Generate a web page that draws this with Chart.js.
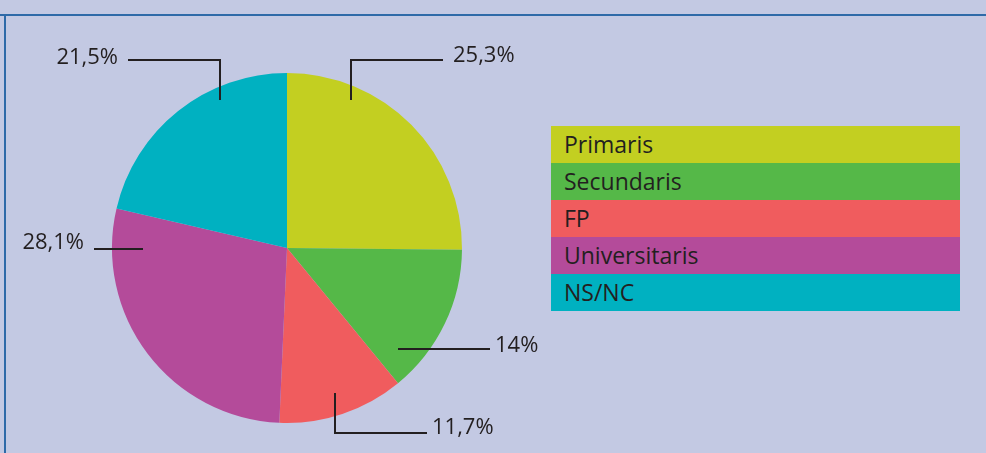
<!DOCTYPE html>
<html>
<head>
<meta charset="utf-8">
<script src="https://cdn.jsdelivr.net/npm/chart.js@4.4.1/dist/chart.umd.min.js"></script>
<style>
  html, body { margin: 0; padding: 0; }
  body { width: 986px; height: 453px; background: #c3c9e3; position: relative; overflow: hidden; }
  #frameTop { position: absolute; left: 0; top: 14px; width: 986px; height: 2px; background: #2e6aa8; }
  #frameLeft { position: absolute; left: 4px; top: 14px; width: 2px; height: 439px; background: #2e6aa8; }
  #wrap { position: absolute; left: 0; top: 0; width: 986px; height: 453px; }
  #legend { position: absolute; left: 551px; top: 126px; width: 409px; }
  #legend div {
    height: 37px; line-height: 37px; padding-left: 13px;
    font-family: "Open Sans", sans-serif; font-size: 23px; color: #231f20;
  }
</style>
</head>
<body>
<div id="frameTop"></div>
<div id="frameLeft"></div>
<div id="wrap"><canvas id="myChart"></canvas></div>
<div id="legend"></div>
<script>
// datos
const labels = ['Primaris', 'Secundaris', 'FP', 'Universitaris', 'NS/NC'];
const values = [25.3, 14, 11.7, 28.1, 21.5];
const colors = ['#c3cf21', '#55b848', '#f05c5e', '#b44b9a', '#00b1c1'];

// leyenda en html (barras de color a todo lo ancho)
const legendEl = document.getElementById('legend');
labels.forEach(function (l, i) {
  const d = document.createElement('div');
  d.style.background = colors[i];
  d.textContent = l;
  legendEl.appendChild(d);
});

// lineas guia: offsets en px para radio 175, relativos al centro
const leaders = [
  { pts: [[64, -148], [64, -188], [156, -188]], text: [166, -186], align: 'left' },
  { pts: [[111, 101], [203, 101]], text: [208, 104], align: 'left' },
  { pts: [[48, 145], [48, 185], [140, 185]], text: [145, 186], align: 'left' },
  { pts: [[-144, 1], [-193, 1]], text: [-203, 1], align: 'right' },
  { pts: [[-67, -148], [-67, -188], [-159, -188]], text: [-169, -184], align: 'right' }
];

const leaderPlugin = {
  id: 'leaders',
  afterDraw(chart) {
    const ctx = chart.ctx;
    const meta = chart.getDatasetMeta(0);
    ctx.save();
    ctx.strokeStyle = '#231f20';
    ctx.fillStyle = '#231f20';
    ctx.lineWidth = 2;
    ctx.font = '22px "Open Sans", sans-serif';
    ctx.textBaseline = 'alphabetic';
    meta.data.forEach(function (arc, i) {
      const k = arc.outerRadius / 175;
      const cx = arc.x, cy = arc.y;
      const L = leaders[i];
      ctx.beginPath();
      L.pts.forEach(function (p, j) {
        const x = cx + p[0] * k, y = cy + p[1] * k;
        if (j === 0) ctx.moveTo(x, y); else ctx.lineTo(x, y);
      });
      ctx.stroke();
      ctx.textAlign = L.align;
      const txt = String(values[i]).replace('.', ',') + '%';
      ctx.fillText(txt, cx + L.text[0] * k, cy + L.text[1] * k);
    });
    ctx.restore();
  }
};

let ctx = document.getElementById('myChart').getContext('2d');
let myChart = new Chart(ctx, {
  type: 'pie',
  data: {
    labels: labels,
    datasets: [{
      data: values,
      backgroundColor: colors,
      borderWidth: 0
    }]
  },
  plugins: [leaderPlugin],
  options: {
    responsive: true,
    maintainAspectRatio: false,
    animation: false,
    layout: {
      padding: { left: 112, right: 524, top: 73, bottom: 30 }
    },
    plugins: {
      legend: { display: false },
      tooltip: { enabled: false }
    }
  }
});
</script>
</body>
</html>
